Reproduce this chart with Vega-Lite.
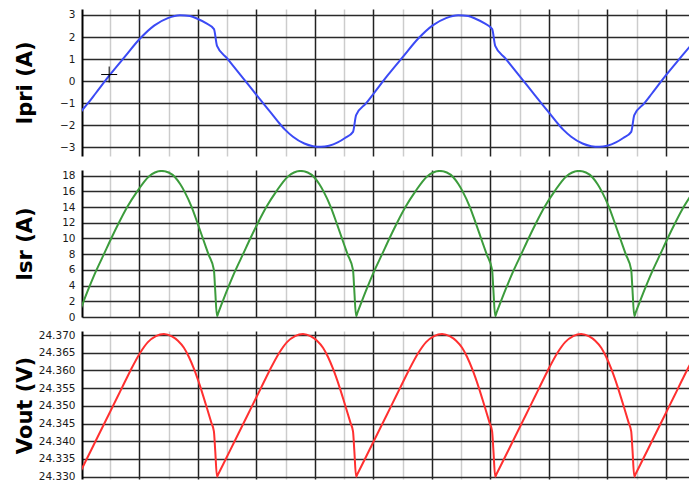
{
  "$schema": "https://vega.github.io/schema/vega-lite/v6.json",
  "background": "white",
  "padding": {"left": 14, "top": 9, "right": 0, "bottom": 0},
  "autosize": {"type": "pad"},
  "spacing": 14,
  "bounds": "flush",
  "config": {
    "view": {"stroke": null},
    "axis": {"labelFont": "DejaVu Sans", "labelFontSize": 10.5, "labelColor": "#1a1a1a", "titleFont": "DejaVu Sans", "titleFontSize": 21, "titleFontWeight": "bold", "titleColor": "#000000"}
  },
  "datasets": {
    "ipri": [
      {"t": -0.099, "v": -1.54}, {"t": 0.246, "v": -1.0}, {"t": 0.503, "v": -0.56}, {"t": 0.991, "v": 0.28}, {"t": 1.514, "v": 1.12}, {"t": 2.017, "v": 1.92}, {"t": 2.519, "v": 2.53}, {"t": 2.974, "v": 2.86}, {"t": 3.39, "v": 2.99}, {"t": 3.732, "v": 2.95}, {"t": 3.982, "v": 2.83}, {"t": 4.279, "v": 2.63}, {"t": 4.552, "v": 2.36}, {"t": 4.655, "v": 1.6}, {"t": 4.997, "v": 1.04}, {"t": 5.544, "v": 0.14}, {"t": 5.988, "v": -0.6}, {"t": 6.501, "v": -1.44}, {"t": 6.842, "v": -2.0}, {"t": 6.979, "v": -2.2}, {"t": 7.252, "v": -2.52}, {"t": 7.639, "v": -2.83}, {"t": 7.936, "v": -2.95}, {"t": 8.209, "v": -2.98}, {"t": 8.483, "v": -2.93}, {"t": 8.78, "v": -2.78}, {"t": 9.03, "v": -2.58}, {"t": 9.303, "v": -2.3}, {"t": 9.409, "v": -1.54},
      {"t": 9.754, "v": -1.0}, {"t": 10.011, "v": -0.56}, {"t": 10.499, "v": 0.28}, {"t": 11.022, "v": 1.12}, {"t": 11.525, "v": 1.92}, {"t": 12.027, "v": 2.53}, {"t": 12.482, "v": 2.86}, {"t": 12.898, "v": 2.99}, {"t": 13.24, "v": 2.95}, {"t": 13.49, "v": 2.83}, {"t": 13.787, "v": 2.63}, {"t": 14.06, "v": 2.36}, {"t": 14.163, "v": 1.6}, {"t": 14.505, "v": 1.04}, {"t": 15.052, "v": 0.14}, {"t": 15.496, "v": -0.6}, {"t": 16.009, "v": -1.44}, {"t": 16.35, "v": -2.0}, {"t": 16.487, "v": -2.2}, {"t": 16.76, "v": -2.52}, {"t": 17.147, "v": -2.83}, {"t": 17.444, "v": -2.95}, {"t": 17.717, "v": -2.98}, {"t": 17.991, "v": -2.93}, {"t": 18.288, "v": -2.78}, {"t": 18.538, "v": -2.58}, {"t": 18.811, "v": -2.3}, {"t": 18.916, "v": -1.54},
      {"t": 19.262, "v": -1.0}, {"t": 19.519, "v": -0.56}, {"t": 20.007, "v": 0.28}, {"t": 20.53, "v": 1.12}, {"t": 21.033, "v": 1.92}
    ],
    "cursor": [{"t": 0.97, "v": 0.3}],
    "isr": [
      {"t": -0.099, "v": 0.1}, {"t": -0.058, "v": 0.5}, {"t": 0.277, "v": 3.7}, {"t": 0.526, "v": 5.9}, {"t": 0.79, "v": 8.0}, {"t": 1.039, "v": 10.0}, {"t": 1.302, "v": 12.0}, {"t": 1.586, "v": 14.0}, {"t": 1.928, "v": 16.0}, {"t": 2.328, "v": 17.9}, {"t": 2.533, "v": 18.4}, {"t": 2.755, "v": 18.6}, {"t": 3.001, "v": 18.4}, {"t": 3.221, "v": 17.8}, {"t": 3.401, "v": 16.9}, {"t": 3.541, "v": 16.0}, {"t": 3.79, "v": 14.0}, {"t": 3.985, "v": 12.0}, {"t": 4.173, "v": 10.0}, {"t": 4.361, "v": 8.0}, {"t": 4.549, "v": 6.0}, {"t": 4.59, "v": 3.6}, {"t": 4.655, "v": 0.1},
      {"t": 4.696, "v": 0.5}, {"t": 5.031, "v": 3.7}, {"t": 5.28, "v": 5.9}, {"t": 5.544, "v": 8.0}, {"t": 5.793, "v": 10.0}, {"t": 6.056, "v": 12.0}, {"t": 6.34, "v": 14.0}, {"t": 6.682, "v": 16.0}, {"t": 7.082, "v": 17.9}, {"t": 7.287, "v": 18.4}, {"t": 7.509, "v": 18.6}, {"t": 7.755, "v": 18.4}, {"t": 7.975, "v": 17.8}, {"t": 8.155, "v": 16.9}, {"t": 8.295, "v": 16.0}, {"t": 8.544, "v": 14.0}, {"t": 8.739, "v": 12.0}, {"t": 8.927, "v": 10.0}, {"t": 9.115, "v": 8.0}, {"t": 9.303, "v": 6.0}, {"t": 9.344, "v": 3.6}, {"t": 9.409, "v": 0.1},
      {"t": 9.45, "v": 0.5}, {"t": 9.785, "v": 3.7}, {"t": 10.034, "v": 5.9}, {"t": 10.298, "v": 8.0}, {"t": 10.547, "v": 10.0}, {"t": 10.81, "v": 12.0}, {"t": 11.094, "v": 14.0}, {"t": 11.436, "v": 16.0}, {"t": 11.836, "v": 17.9}, {"t": 12.041, "v": 18.4}, {"t": 12.263, "v": 18.6}, {"t": 12.509, "v": 18.4}, {"t": 12.729, "v": 17.8}, {"t": 12.909, "v": 16.9}, {"t": 13.049, "v": 16.0}, {"t": 13.298, "v": 14.0}, {"t": 13.493, "v": 12.0}, {"t": 13.681, "v": 10.0}, {"t": 13.869, "v": 8.0}, {"t": 14.057, "v": 6.0}, {"t": 14.098, "v": 3.6}, {"t": 14.163, "v": 0.1},
      {"t": 14.204, "v": 0.5}, {"t": 14.539, "v": 3.7}, {"t": 14.788, "v": 5.9}, {"t": 15.052, "v": 8.0}, {"t": 15.301, "v": 10.0}, {"t": 15.564, "v": 12.0}, {"t": 15.848, "v": 14.0}, {"t": 16.19, "v": 16.0}, {"t": 16.59, "v": 17.9}, {"t": 16.795, "v": 18.4}, {"t": 17.017, "v": 18.6}, {"t": 17.263, "v": 18.4}, {"t": 17.483, "v": 17.8}, {"t": 17.663, "v": 16.9}, {"t": 17.803, "v": 16.0}, {"t": 18.052, "v": 14.0}, {"t": 18.247, "v": 12.0}, {"t": 18.435, "v": 10.0}, {"t": 18.623, "v": 8.0}, {"t": 18.811, "v": 6.0}, {"t": 18.852, "v": 3.6}, {"t": 18.916, "v": 0.1},
      {"t": 18.957, "v": 0.5}, {"t": 19.292, "v": 3.7}, {"t": 19.541, "v": 5.9}, {"t": 19.805, "v": 8.0}, {"t": 20.054, "v": 10.0}, {"t": 20.317, "v": 12.0}, {"t": 20.601, "v": 14.0}, {"t": 20.943, "v": 16.0}
    ],
    "vout": [
      {"t": -0.099, "v": 24.33}, {"t": -0.058, "v": 24.33067}, {"t": 0.202, "v": 24.335}, {"t": 0.503, "v": 24.34}, {"t": 0.803, "v": 24.345}, {"t": 1.101, "v": 24.35}, {"t": 1.401, "v": 24.355}, {"t": 1.699, "v": 24.36}, {"t": 2.03, "v": 24.365}, {"t": 2.293, "v": 24.368}, {"t": 2.567, "v": 24.3697}, {"t": 2.84, "v": 24.3703}, {"t": 3.114, "v": 24.3696}, {"t": 3.319, "v": 24.3684}, {"t": 3.524, "v": 24.3664}, {"t": 3.695, "v": 24.3638}, {"t": 3.865, "v": 24.3605}, {"t": 4.088, "v": 24.3553}, {"t": 4.276, "v": 24.3503}, {"t": 4.464, "v": 24.3452}, {"t": 4.549, "v": 24.3428}, {"t": 4.593, "v": 24.3375}, {"t": 4.655, "v": 24.33},
      {"t": 4.696, "v": 24.33067}, {"t": 4.956, "v": 24.335}, {"t": 5.257, "v": 24.34}, {"t": 5.557, "v": 24.345}, {"t": 5.855, "v": 24.35}, {"t": 6.155, "v": 24.355}, {"t": 6.453, "v": 24.36}, {"t": 6.784, "v": 24.365}, {"t": 7.047, "v": 24.368}, {"t": 7.321, "v": 24.3697}, {"t": 7.594, "v": 24.3703}, {"t": 7.868, "v": 24.3696}, {"t": 8.073, "v": 24.3684}, {"t": 8.278, "v": 24.3664}, {"t": 8.449, "v": 24.3638}, {"t": 8.619, "v": 24.3605}, {"t": 8.842, "v": 24.3553}, {"t": 9.03, "v": 24.3503}, {"t": 9.218, "v": 24.3452}, {"t": 9.303, "v": 24.3428}, {"t": 9.347, "v": 24.3375}, {"t": 9.409, "v": 24.33},
      {"t": 9.45, "v": 24.33067}, {"t": 9.71, "v": 24.335}, {"t": 10.011, "v": 24.34}, {"t": 10.311, "v": 24.345}, {"t": 10.609, "v": 24.35}, {"t": 10.909, "v": 24.355}, {"t": 11.207, "v": 24.36}, {"t": 11.538, "v": 24.365}, {"t": 11.801, "v": 24.368}, {"t": 12.075, "v": 24.3697}, {"t": 12.348, "v": 24.3703}, {"t": 12.622, "v": 24.3696}, {"t": 12.827, "v": 24.3684}, {"t": 13.032, "v": 24.3664}, {"t": 13.203, "v": 24.3638}, {"t": 13.373, "v": 24.3605}, {"t": 13.596, "v": 24.3553}, {"t": 13.784, "v": 24.3503}, {"t": 13.972, "v": 24.3452}, {"t": 14.057, "v": 24.3428}, {"t": 14.101, "v": 24.3375}, {"t": 14.163, "v": 24.33},
      {"t": 14.204, "v": 24.33067}, {"t": 14.464, "v": 24.335}, {"t": 14.765, "v": 24.34}, {"t": 15.065, "v": 24.345}, {"t": 15.363, "v": 24.35}, {"t": 15.663, "v": 24.355}, {"t": 15.961, "v": 24.36}, {"t": 16.292, "v": 24.365}, {"t": 16.555, "v": 24.368}, {"t": 16.829, "v": 24.3697}, {"t": 17.102, "v": 24.3703}, {"t": 17.376, "v": 24.3696}, {"t": 17.581, "v": 24.3684}, {"t": 17.786, "v": 24.3664}, {"t": 17.957, "v": 24.3638}, {"t": 18.127, "v": 24.3605}, {"t": 18.35, "v": 24.3553}, {"t": 18.538, "v": 24.3503}, {"t": 18.726, "v": 24.3452}, {"t": 18.811, "v": 24.3428}, {"t": 18.855, "v": 24.3375}, {"t": 18.916, "v": 24.33},
      {"t": 18.957, "v": 24.33067}, {"t": 19.217, "v": 24.335}, {"t": 19.518, "v": 24.34}, {"t": 19.818, "v": 24.345}, {"t": 20.116, "v": 24.35}, {"t": 20.416, "v": 24.355}, {"t": 20.714, "v": 24.36}, {"t": 21.045, "v": 24.365}
    ]
  },
  "vconcat": [
    {
      "width": 607, "height": 147,
      "encoding": {
        "x": {"field": "t", "type": "quantitative", "scale": {"domain": [0.041, 20.786], "nice": false, "zero": false},
          "axis": {"values": [1,2,3,4,5,6,7,8,9,10,11,12,13,14,15,16,17,18,19,20], "labels": false, "ticks": false, "domain": false, "title": null, "grid": true, "gridWidth": 1.5, "gridColor": {"condition": {"test": "datum.value % 2 === 0", "value": "#222222"}, "value": "#cccccc"}}},
        "y": {"field": "v", "type": "quantitative", "scale": {"domain": [-3.395, 3.272], "nice": false, "zero": false},
          "axis": {"title": "Ipri (A)", "values": [-3,-2,-1,0,1,2,3], "ticks": false, "labelPadding": 7, "labelFlush": false, "labelOverlap": false, "domainColor": "#000000", "domainWidth": 2, "grid": true, "gridColor": "#2a2a2a", "gridWidth": 1.5, "titleX": -57, "titleY": 73.5, "titleAngle": -90, "titleAlign": "center", "titleBaseline": "middle"}}
      },
      "layer": [
        {"data": {"name": "ipri"}, "mark": {"type": "line", "color": "#3b4af5", "strokeWidth": 2, "clip": true, "interpolate": "monotone"}},
        {"data": {"name": "cursor"}, "mark": {"type": "point", "shape": "M-1,0H1M0,-1V1", "size": 256, "filled": false, "stroke": "#000000", "strokeWidth": 1, "opacity": 1}}
      ]
    },
    {
      "width": 607, "height": 147,
      "data": {"name": "isr"},
      "mark": {"type": "line", "color": "#3c9c3c", "strokeWidth": 2, "clip": true, "interpolate": "monotone"},
      "encoding": {
        "x": {"field": "t", "type": "quantitative", "scale": {"domain": [0.041, 20.786], "nice": false, "zero": false},
          "axis": {"values": [1,2,3,4,5,6,7,8,9,10,11,12,13,14,15,16,17,18,19,20], "labels": false, "ticks": false, "domain": false, "title": null, "grid": true, "gridWidth": 1.5, "gridColor": {"condition": {"test": "datum.value % 2 === 0", "value": "#222222"}, "value": "#cccccc"}}},
        "y": {"field": "v", "type": "quantitative", "scale": {"domain": [0, 18.72], "nice": false, "zero": false},
          "axis": {"title": "Isr (A)", "values": [0,2,4,6,8,10,12,14,16,18], "ticks": false, "labelPadding": 7, "labelFlush": false, "labelOverlap": false, "domainColor": "#000000", "domainWidth": 2, "grid": true, "gridColor": "#2a2a2a", "gridWidth": 1.5, "titleX": -57, "titleY": 73.5, "titleAngle": -90, "titleAlign": "center", "titleBaseline": "middle"}}
      }
    },
    {
      "width": 607, "height": 148,
      "data": {"name": "vout"},
      "mark": {"type": "line", "color": "#ff3030", "strokeWidth": 2, "clip": true, "interpolate": "monotone"},
      "encoding": {
        "x": {"field": "t", "type": "quantitative", "scale": {"domain": [0.041, 20.786], "nice": false, "zero": false},
          "axis": {"values": [1,2,3,4,5,6,7,8,9,10,11,12,13,14,15,16,17,18,19,20], "labels": false, "ticks": false, "domain": false, "title": null, "grid": true, "gridWidth": 1.5, "gridColor": {"condition": {"test": "datum.value % 2 === 0", "value": "#222222"}, "value": "#cccccc"}}},
        "y": {"field": "v", "type": "quantitative", "scale": {"domain": [24.32935, 24.37113], "nice": false, "zero": false},
          "axis": {"title": "Vout (V)", "values": [24.33,24.335,24.34,24.345,24.35,24.355,24.36,24.365,24.37], "format": ".3f", "ticks": false, "labelPadding": 7, "labelFlush": false, "labelOverlap": false, "domainColor": "#000000", "domainWidth": 2, "grid": true, "gridColor": "#2a2a2a", "gridWidth": 1.5, "titleX": -57, "titleY": 74, "titleAngle": -90, "titleAlign": "center", "titleBaseline": "middle"}}
      }
    }
  ]
}
